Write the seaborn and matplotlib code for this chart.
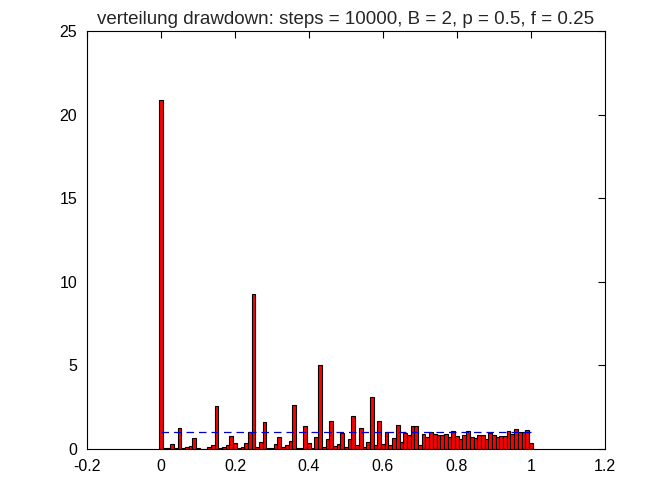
import numpy as np
import pandas as pd
import matplotlib
matplotlib.use("Agg")
import matplotlib.pyplot as plt
import seaborn as sns

# Bin centres (0, 0.01, ..., 1.00) and bar heights
bin_centers = [round(i * 0.01, 2) for i in range(101)]
heights = [
    20.9, 0.04, 0.04, 0.30, 0.04, 1.25, 0.04, 0.12, 0.20, 0.65,
    0.05, 0.03, 0.03, 0.12, 0.24, 2.55, 0.05, 0.10, 0.24, 0.77,
    0.38, 0.05, 0.15, 0.38, 1.00, 9.30, 0.12, 0.45, 1.64, 0.05,
    0.08, 0.28, 0.73, 0.10, 0.24, 0.47, 2.65, 0.05, 0.06, 1.38,
    0.38, 0.06, 0.73, 5.05, 0.11, 0.60, 1.68, 0.21, 0.28, 0.97,
    0.10, 0.60, 2.00, 0.23, 1.27, 0.15, 0.42, 3.14, 0.22, 1.68,
    0.32, 1.05, 0.22, 0.65, 1.46, 0.43, 0.95, 0.83, 1.38, 1.38,
    0.22, 0.91, 0.74, 1.01, 0.91, 0.83, 0.83, 0.91, 0.73, 1.09,
    0.77, 0.59, 0.83, 1.09, 0.75, 0.69, 0.83, 0.83, 0.63, 0.95,
    0.87, 0.73, 0.79, 0.81, 1.09, 0.91, 1.20, 1.00, 1.00, 1.15,
    0.38,
]
ref_x = [0.0, 1.0]
ref_y = [1.0, 1.0]
x_ticks = [-0.2, 0, 0.2, 0.4, 0.6, 0.8, 1, 1.2]
x_tick_labels = ["-0.2", "0", "0.2", "0.4", "0.6", "0.8", "1", "1.2"]
y_ticks = [0, 5, 10, 15, 20, 25]
title = "verteilung drawdown: steps = 10000, B = 2, p = 0.5, f = 0.25"

sns.set_style("white")
plt.rcParams["font.family"] = ["Liberation Sans", "DejaVu Sans"]
plt.rcParams["font.size"] = 11.5

df = pd.DataFrame({"x": bin_centers, "h": heights})

fig = plt.figure(figsize=(6.72, 5.04), dpi=100)
ax = fig.add_axes([0.1295, 0.109, 0.7705, 0.8295])

sns.histplot(data=df, x="x", weights="h", binwidth=0.01,
             binrange=(-0.005, 1.005), ax=ax,
             color="#ff0000", edgecolor="black", linewidth=0.8, alpha=1.0)
ax.plot(ref_x, ref_y, linestyle=(0, (6, 4)), color="#0000cc", linewidth=0.9)

ax.set_xlim(-0.2, 1.2)
ax.set_ylim(0, 25)
ax.set_xticks(x_ticks)
ax.set_xticklabels(x_tick_labels)
ax.set_yticks(y_ticks)
ax.set_xlabel("")
ax.set_ylabel("")
ax.set_title(title, fontsize=13.5, pad=5)

for s in ax.spines.values():
    s.set_visible(True)
    s.set_color("black")
    s.set_linewidth(0.8)
ax.tick_params(direction="in", length=5, width=0.8, top=True, right=True,
               labelsize=11.5, colors="black")
ax.tick_params(axis="x", pad=7)
ax.tick_params(axis="y", pad=7)

fig.savefig("out.png", dpi=100)
